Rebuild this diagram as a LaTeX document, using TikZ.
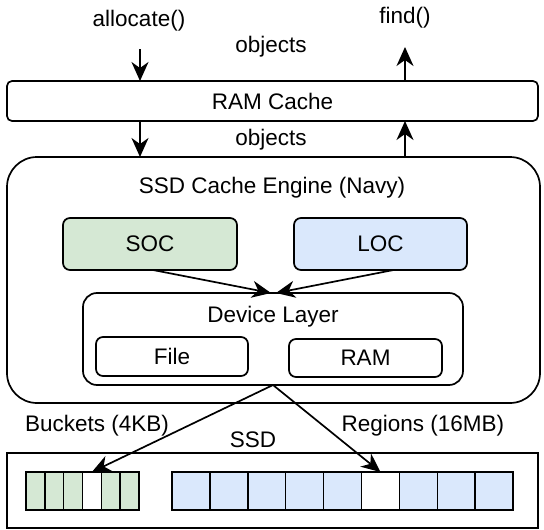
\documentclass[tikz,border=0pt]{standalone}
\usepackage{fontspec}
\setmainfont{Liberation Sans}
\usetikzlibrary{arrows.meta}
\definecolor{socgreen}{HTML}{D5E8D4}
\definecolor{locblue}{HTML}{DAE8FC}
\tikzset{
  arr/.style={line width=1.7pt, -{Stealth[length=19pt,width=17pt,inset=6pt]}}
}
\begin{document}
\begin{tikzpicture}[x=1pt,y=-1pt,
  every node/.style={font=\fontsize{22.5}{27}\selectfont, inner sep=0pt, outer sep=0pt},
  box/.style={draw, line width=1.7pt, anchor=north west},
  cell/.style={draw, line width=1.5pt, anchor=north west, minimum height=38pt}]
\useasboundingbox (0,0) rectangle (544,530);
% boxes
\node[box, rounded corners=5pt, minimum width=531pt, minimum height=40pt] (ram) at (7,81) {RAM Cache};
\node[box, rounded corners=30pt, minimum width=533pt, minimum height=246pt] (engine) at (7,157) {};
\node (englbl) at (272,188) {SSD Cache Engine (Navy)};
\node[box, rounded corners=7pt, fill=socgreen, minimum width=174pt, minimum height=52pt] (soc) at (63,218) {SOC};
\node[box, rounded corners=7pt, fill=locblue, minimum width=173pt, minimum height=52pt] (loc) at (294,218) {LOC};
\node[box, rounded corners=14pt, minimum width=380pt, minimum height=92pt] (dev) at (83,293) {};
\node (devlbl) at (273,317) {Device Layer};
\node[box, rounded corners=7pt, minimum width=152pt, minimum height=39pt] (file) at (96,337) {File};
\node[box, rounded corners=7pt, minimum width=153pt, minimum height=38pt] (ramd) at (289,339) {RAM};
\node[box, minimum width=531pt, minimum height=75pt] (ssd) at (7,453) {};
\node (ssdlbl) at (253,440) {SSD};
\node (bkt) at (97,426) {Buckets (4KB)};
\node (rgn) at (423,426) {Regions (16MB)};
% cells
\foreach \i/\c in {1/socgreen,2/socgreen,3/socgreen,4/white,5/socgreen,6/socgreen}
  \node[cell, fill=\c, minimum width=18.83pt] (b\i) at ({26+(\i-1)*18.83},472) {};
\foreach \i/\c in {1/locblue,2/locblue,3/locblue,4/locblue,5/locblue,6/white,7/locblue,8/locblue,9/locblue}
  \node[cell, fill=\c, minimum width=37.9pt] (r\i) at ({172+(\i-1)*37.9},472) {};
% top labels
\node (alloc) at (139,21) {allocate()};
\node (find) at (405,18) {find()};
\node (obj1) at (271,47) {objects};
\node (obj2) at (271,140) {objects};
% connectors
\coordinate (a0) at (140,49);
\coordinate (f0) at (405,47);
\draw[arr] (a0) -- (a0 |- ram.north);
\draw[arr] (f0 |- ram.north) -- (f0);
\draw[arr] (a0 |- ram.south) -- (a0 |- engine.north);
\draw[arr] (f0 |- engine.north) -- (f0 |- ram.south);
\draw[arr] ([xshift=3pt]soc.south) -- ([xshift=-2pt]dev.north);
\draw[arr] ([xshift=13pt]loc.south) -- ([xshift=3pt]dev.north);
\draw[arr] (dev.south) -- (b4.north);
\draw[arr] (dev.south) -- (r6.north);
\end{tikzpicture}
\end{document}
